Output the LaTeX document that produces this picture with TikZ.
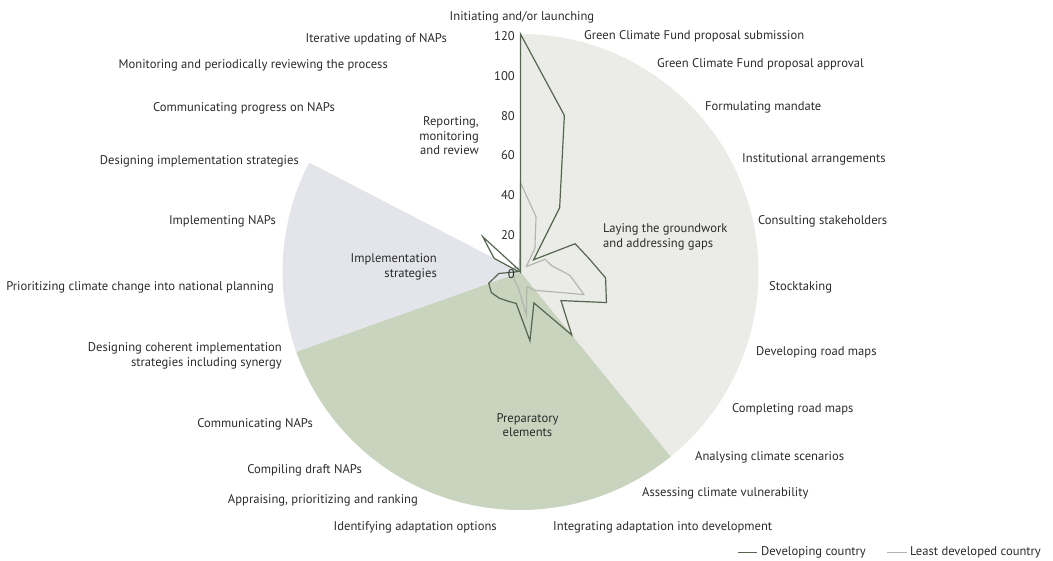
\documentclass[tikz,border=0pt]{standalone}
\usepackage{fontspec}
\setmainfont{PT Sans}
\usepackage{tikz}
\definecolor{groundfill}{HTML}{EBECE7}
\definecolor{prepfill}{HTML}{C9D4BE}
\definecolor{implfill}{HTML}{E3E5EA}
\definecolor{devline}{HTML}{56654F}
\definecolor{ldcline}{HTML}{B0B3AE}
\definecolor{axisgreen}{HTML}{4E8A3E}
\definecolor{txtgrey}{HTML}{2B2B2B}

\begin{document}
\begin{tikzpicture}[x=1pt, y=-1pt]
    \tikzstyle{steplabel} = [font=\fontsize{12.6}{14.5}\selectfont, text=txtgrey, inner sep=0pt]
    \tikzstyle{stagelabel} = [steplabel, align=center]
    \tikzstyle{ticklabel} = [steplabel, anchor=east]
    \tikzstyle{devseries} = [devline, line width=1.2pt, line join=miter]
    \tikzstyle{ldcseries} = [ldcline, line width=1.1pt, line join=miter]
    \useasboundingbox (0,0) rectangle (1053,560);
    \begin{scope}[shift={(520.5,272)}]
        \fill[groundfill] (0,0) -- (-90:238) arc[start angle=-90, end angle=50.87, radius=238] -- cycle;
        \fill[prepfill] (0,0) -- (50.87:238) arc[start angle=50.87, end angle=160.43, radius=238] -- cycle;
        \fill[implfill] (0,0) -- (160.43:238) arc[start angle=160.43, end angle=207.39, radius=238] -- cycle;
        \draw[axisgreen, line width=0.8pt] (0,0) -- (-90:238);
        \draw[ldcseries] (-90:{45*1.983}) \foreach \v [count=\i] in {29,14,4,14,16,25,34,17,12,8,22,8,6,5,4,4,3,2,3,4,2,2} {
            -- ({-90+\i*360/23}:{\v*1.983}) } -- cycle;
        \draw[devseries] (-90:{120*1.983}) \foreach \v [count=\i] in {82,38,9,31,35,43,46,25,41,17,35,16,16,17,18,17,11,1,15,26,1,0} {
            -- ({-90+\i*360/23}:{\v*1.983}) } -- cycle;
        \foreach \t in {0,20,...,120}
            \node[ticklabel] (tick\t) at (-5.5, {-\t*1.983+2.5}) {\t};
    \end{scope}
    \node[stagelabel, align=right, anchor=east] (reporting) at (479,136) {Reporting,\\monitoring\\and review};
    \node[stagelabel, align=right, anchor=east] (implementation) at (437,267) {Implementation\\strategies};
    \node[stagelabel, align=left, anchor=west] (groundwork) at (603,237) {Laying the groundwork\\and addressing gaps};
    \node[stagelabel] (preparatory) at (527.5,425) {Preparatory\\elements};
    \node[steplabel] (launch) at (522,17) {Initiating and/or launching};
    \node[steplabel, anchor=west] (gcfsubmit) at (584,36) {Green Climate Fund proposal submission};
    \node[steplabel, anchor=west] (gcfapprove) at (657,64) {Green Climate Fund proposal approval};
    \node[steplabel, anchor=west] (mandate) at (705,107) {Formulating mandate};
    \node[steplabel, anchor=west] (institutional) at (742,159) {Institutional arrangements};
    \node[steplabel, anchor=west] (consulting) at (758,221) {Consulting stakeholders};
    \node[steplabel, anchor=west] (stocktaking) at (769,287) {Stocktaking};
    \node[steplabel, anchor=west] (developing) at (756,352) {Developing road maps};
    \node[steplabel, anchor=west] (completing) at (732,409) {Completing road maps};
    \node[steplabel, anchor=west] (scenarios) at (695,457) {Analysing climate scenarios};
    \node[steplabel, anchor=west] (vulnerability) at (642,493) {Assessing climate vulnerability};
    \node[steplabel, anchor=west] (integrating) at (553,527) {Integrating adaptation into development};
    \node[steplabel, anchor=east] (identifying) at (497,527) {Identifying adaptation options};
    \node[steplabel, anchor=east] (appraising) at (418,500) {Appraising, prioritizing and ranking};
    \node[steplabel, anchor=east] (compiling) at (362,470) {Compiling draft NAPs};
    \node[steplabel, anchor=east] (communicating) at (313,424) {Communicating NAPs};
    \node[steplabel, anchor=east, align=right] (coherent) at (282,356) {Designing coherent implementation\\strategies including synergy};
    \node[steplabel, anchor=east] (prioritizing) at (274,287) {Prioritizing climate change into national planning};
    \node[steplabel, anchor=east] (implementing) at (276,221) {Implementing NAPs};
    \node[steplabel, anchor=east] (designing) at (299,161) {Designing implementation strategies};
    \node[steplabel, anchor=east] (progress) at (335,108) {Communicating progress on NAPs};
    \node[steplabel, anchor=east] (monitoring) at (388,65) {Monitoring and periodically reviewing the process};
    \node[steplabel, anchor=east] (iterative) at (447,39) {Iterative updating of NAPs};
    \coordinate (devA) at (738,552.5);
    \coordinate (devB) at (757,552.5);
    \coordinate (ldcA) at (887,552.5);
    \coordinate (ldcB) at (907,552.5);
    \draw[devline, line width=1.2pt] (devA) -- (devB);
    \draw[ldcline, line width=1.2pt] (ldcA) -- (ldcB);
    \node[steplabel, anchor=west] (devtext) at (761,552.5) {Developing country};
    \node[steplabel, anchor=west] (ldctext) at (910,552.5) {Least developed country};
\end{tikzpicture}
\end{document}
